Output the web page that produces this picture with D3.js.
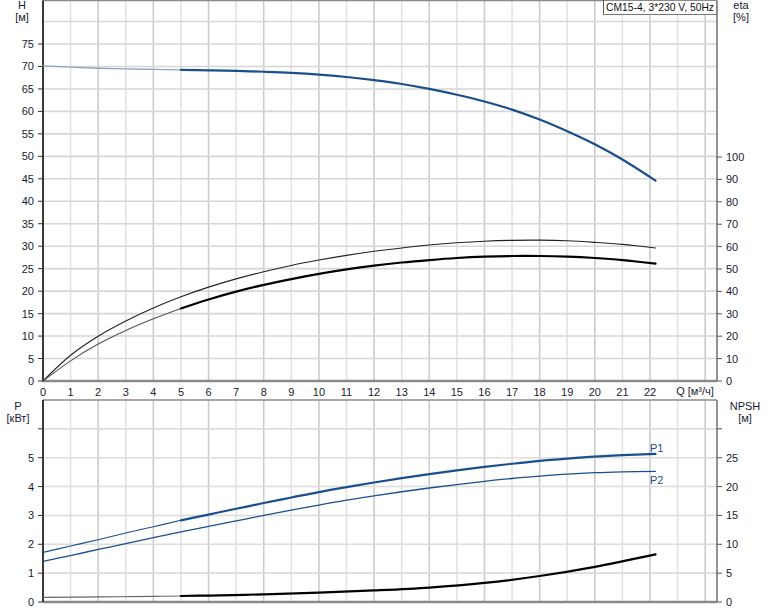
<!DOCTYPE html>
<html><head><meta charset="utf-8">
<script src="https://cdn.jsdelivr.net/npm/d3@7"></script>
<style>
body{margin:0;background:#fff;}
svg{display:block;font-family:"Liberation Sans",Arial,sans-serif;}
</style></head>
<body><svg id="c" width="774" height="611"></svg>
<script>
// ---- data ----
const title = "CM15-4, 3*230 V, 50Hz";
const qTicks = d3.range(0, 23);
const hTicks = [0,5,10,15,20,25,30,35,40,45,50,55,60,65,70,75];
const etaTicks = [0,10,20,30,40,50,60,70,80,90,100];
const pTicks = [0,1,2,3,4,5];
const npshTicks = [0,5,10,15,20,25];

const qAll = [0,1,2,3,4,5,6,7,8,9,10,11,12,13,14,15,16,17,18,19,20,21,22.2];
const H  = [70.15,69.85,69.6,69.45,69.35,69.25,69.15,69.0,68.82,68.58,68.2,67.65,66.95,66.1,65.0,63.7,62.2,60.4,58.2,55.6,52.7,49.3,44.6];
const etaTotal = [0,11.5,20.0,26.8,32.6,37.6,41.9,45.6,48.8,51.6,54.0,56.1,57.9,59.4,60.7,61.7,62.4,62.8,62.9,62.6,61.9,61.0,59.4];
const etaPump  = [0,9.0,16.5,22.6,27.8,32.4,36.4,39.9,42.9,45.5,47.8,49.8,51.5,52.9,54.0,54.9,55.5,55.8,55.8,55.5,54.9,54.0,52.4];
const P1 = [1.72,1.94,2.16,2.39,2.61,2.83,3.03,3.23,3.43,3.62,3.81,3.98,4.14,4.29,4.43,4.56,4.68,4.79,4.89,4.97,5.04,5.09,5.13];
const P2 = [1.41,1.61,1.82,2.02,2.23,2.43,2.62,2.81,3.0,3.18,3.36,3.53,3.68,3.82,3.95,4.07,4.18,4.28,4.36,4.43,4.48,4.51,4.53];

const qN = [0,2,4,5,6,8,10,12,14,16,18,20,22.2];
const NPSH = [0.8,0.88,0.98,1.04,1.12,1.33,1.62,2.0,2.5,3.3,4.5,6.1,8.26];

// ---- layout ----
const svg = d3.select("#c");
const X0 = 43, XR = 717;
const x = d3.scaleLinear().domain([0,22]).range([X0,650]);
const yH = d3.scaleLinear().domain([0,75]).range([381,44]);
const yEta = d3.scaleLinear().domain([0,100]).range([381,157]);
const yP = d3.scaleLinear().domain([0,7]).range([602,400]);
const yN = d3.scaleLinear().domain([0,35]).range([602,400]);
const TOP1 = 0.5, BOT1 = 381, TOP2 = 400, BOT2 = 602;

const labelColor = "#1a1a33";
const blue = "#1b4f8c";
const gLight = "#e2e2e2", gDark = "#cbcbcb";

const qGrid = d3.range(0, 25);
function vgrid(y0, y1) {
  svg.append("g").selectAll("line").data(qGrid).join("line")
    .attr("x1", d => x(d)).attr("x2", d => x(d))
    .attr("y1", y0).attr("y2", y1)
    .attr("stroke", d => d % 2 ? gLight : gDark).attr("stroke-width", 1.6);
}
vgrid(TOP1, BOT1);
vgrid(TOP2, BOT2);
svg.append("g").selectAll("line").data(d3.range(5, 85, 5)).join("line")
  .attr("x1", X0).attr("x2", XR).attr("y1", d => yH(d)).attr("y2", d => yH(d))
  .attr("stroke", "#d6d6d6").attr("stroke-width", 1.6);
svg.append("g").selectAll("line").data(d3.range(1, 7)).join("line")
  .attr("x1", X0).attr("x2", XR).attr("y1", d => yP(d)).attr("y2", d => yP(d))
  .attr("stroke", "#dcdcdc").attr("stroke-width", 1.6);

function frame(t, b) {
  svg.append("line").attr("x1", X0).attr("x2", XR).attr("y1", t).attr("y2", t).attr("stroke", "#8a8a8a").attr("stroke-width", 1.5);
  svg.append("line").attr("x1", X0).attr("x2", XR).attr("y1", b).attr("y2", b).attr("stroke", "#8a8a8a").attr("stroke-width", 2.5);
  svg.append("line").attr("x1", XR).attr("x2", XR).attr("y1", t).attr("y2", b).attr("stroke", "#6e6e6e").attr("stroke-width", 1.5);
  svg.append("line").attr("x1", X0).attr("x2", X0).attr("y1", t).attr("y2", b).attr("stroke", "#111").attr("stroke-width", 1.6);
}
frame(TOP1, BOT1);
frame(TOP2, BOT2);

function leftTicks(scale, vals, extra) {
  const g = svg.append("g");
  g.selectAll("line").data(vals.concat(extra||[])).join("line")
    .attr("x1", X0 - 5).attr("x2", X0).attr("y1", d => scale(d)).attr("y2", d => scale(d))
    .attr("stroke", "#333").attr("stroke-width", 1);
  g.selectAll("text").data(vals).join("text")
    .attr("x", 34).attr("y", d => scale(d) + 4).attr("text-anchor", "end")
    .attr("font-size", 11).attr("fill", labelColor).text(d => d);
}
function rightTicks(scale, vals, extra) {
  const g = svg.append("g");
  g.selectAll("line").data(vals.concat(extra||[])).join("line")
    .attr("x1", XR).attr("x2", XR + 5).attr("y1", d => scale(d)).attr("y2", d => scale(d))
    .attr("stroke", "#555").attr("stroke-width", 1);
  g.selectAll("text").data(vals).join("text")
    .attr("x", 726).attr("y", d => scale(d) + 4).attr("text-anchor", "start")
    .attr("font-size", 11).attr("fill", labelColor).text(d => d);
}
leftTicks(yH, hTicks);
rightTicks(yEta, etaTicks);
leftTicks(yP, pTicks, [6]);
rightTicks(yN, npshTicks, [30]);

svg.append("g").selectAll("text").data(qTicks).join("text")
  .attr("x", d => x(d)).attr("y", 396).attr("text-anchor", "middle")
  .attr("font-size", 11).attr("fill", labelColor).text(d => d);
svg.append("text").attr("x", 695).attr("y", 395).attr("text-anchor", "middle")
  .attr("font-size", 11).attr("fill", labelColor).text("Q [м³/ч]");

function t2(cx, y1, a, b) {
  svg.append("text").attr("x", cx).attr("y", y1).attr("text-anchor", "middle").attr("font-size", 11).attr("fill", labelColor).text(a);
  svg.append("text").attr("x", cx).attr("y", y1 + 12).attr("text-anchor", "middle").attr("font-size", 11).attr("fill", labelColor).text(b);
}
t2(22, 9, "H", "[м]");
t2(741, 9, "eta", "[%]");
t2(18, 410, "P", "[кВт]");
t2(745, 410, "NPSH", "[м]");

// title box
svg.append("rect").attr("x", 603.5).attr("y", 0.5).attr("width", 113).attr("height", 14)
  .attr("fill", "#fff").attr("stroke", "#8a8a8a").attr("stroke-width", 1);
svg.append("line").attr("x1", 603.5).attr("x2", 603.5).attr("y1", 0).attr("y2", 15).attr("stroke", "#555").attr("stroke-width", 1);
svg.append("line").attr("x1", 603).attr("x2", 717).attr("y1", 14.5).attr("y2", 14.5).attr("stroke", "#777").attr("stroke-width", 1);
svg.append("text").attr("x", 606).attr("y", 11).attr("font-size", 11)
  .attr("textLength", 108).attr("lengthAdjust", "spacingAndGlyphs")
  .attr("fill", "#111").text(title);

// curves
const line = (ys) => d3.line().x(d => x(d[0])).y(d => ys(d[1])).curve(d3.curveCatmullRom.alpha(0.5));
function curve(qs, vs, ys, from, to, color, w) {
  const seg = qs.map((q, i) => [q, vs[i]]).filter(d => d[0] >= from - 1e-9 && d[0] <= to + 1e-9);
  svg.append("path").attr("d", line(ys)(seg)).attr("fill", "none")
    .attr("stroke", color).attr("stroke-width", w).attr("stroke-linecap", "round");
}
curve(qAll, H, yH, 0, 5, "#8fa3c0", 1.3);
curve(qAll, H, yH, 5, 22.2, blue, 2.2);
curve(qAll, etaTotal, yEta, 0, 22.2, "#222", 1.1);
curve(qAll, etaPump, yEta, 0, 5, "#555", 1.1);
curve(qAll, etaPump, yEta, 5, 22.2, "#000", 2.2);
curve(qAll, P1, yP, 0, 5, blue, 1.1);
curve(qAll, P1, yP, 5, 22.2, blue, 2.2);
curve(qAll, P2, yP, 0, 22.2, blue, 1.3);
curve(qN, NPSH, yN, 0, 5, "#666", 1.1);
curve(qN, NPSH, yN, 5, 22.2, "#000", 2.2);

svg.append("text").attr("x", 650).attr("y", 452).attr("font-size", 11).attr("fill", blue).text("P1");
svg.append("text").attr("x", 650).attr("y", 484).attr("font-size", 11).attr("fill", blue).text("P2");
</script></body></html>
